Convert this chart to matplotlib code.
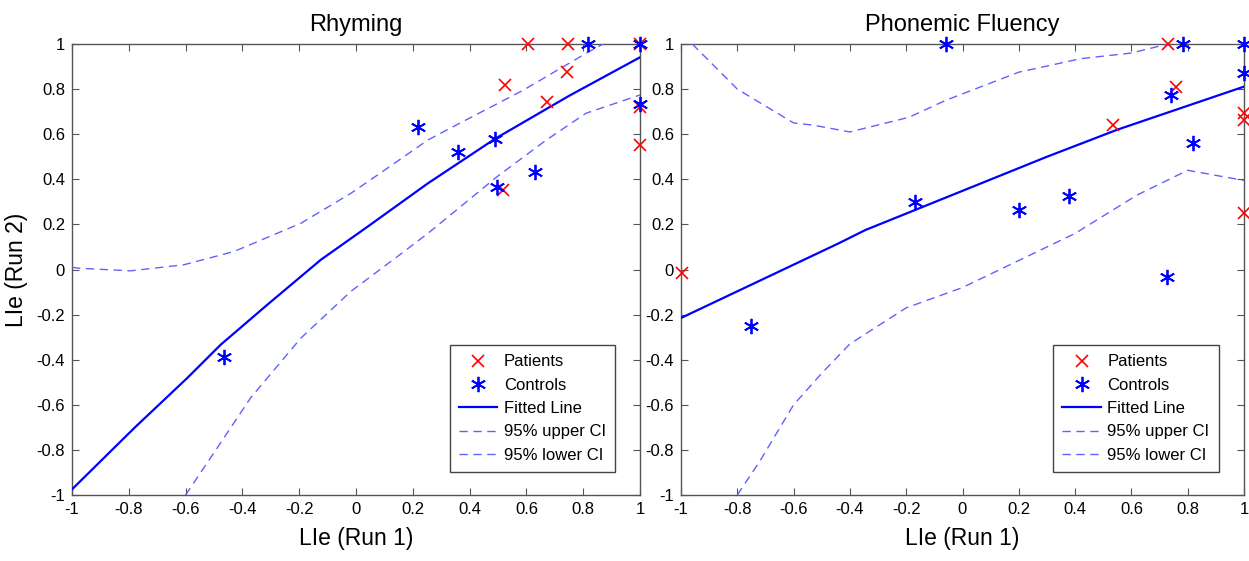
import matplotlib
matplotlib.use("Agg")
import matplotlib.pyplot as plt
from matplotlib.ticker import FixedLocator, FuncFormatter

plt.rcParams["font.family"] = ["Liberation Sans", "DejaVu Sans"]
plt.rcParams["axes.unicode_minus"] = False

# ---- Rhyming ----
rhy_pat_x = [0.605, 0.748, 1.0, 0.525, 0.742, 0.671, 1.0, 1.0, 0.519]
rhy_pat_y = [1.0, 1.0, 1.0, 0.818, 0.877, 0.744, 0.72, 0.552, 0.353]
rhy_ctl_x = [0.818, 1.0, 0.219, 0.36, 0.489, 0.498, 0.63, 1.0, -0.464]
rhy_ctl_y = [1.0, 1.0, 0.633, 0.522, 0.58, 0.364, 0.434, 0.735, -0.386]
rhy_fit_x = [-1.0, -0.78, -0.594, -0.476, -0.312, -0.124, 0.041, 0.253, 0.49, 0.75, 1.0]
rhy_fit_y = [-0.975, -0.702, -0.481, -0.333, -0.156, 0.043, 0.19, 0.382, 0.58, 0.77, 0.941]
rhy_up_x = [-1.0, -0.98, -0.794, -0.606, -0.429, -0.194, -0.018, 0.1, 0.253, 0.32, 0.59, 0.82, 0.87]
rhy_up_y = [0.01, 0.006, -0.006, 0.021, 0.08, 0.205, 0.338, 0.44, 0.574, 0.619, 0.796, 0.966, 1.0]
rhy_lo_x = [-0.6, -0.488, -0.371, -0.194, -0.018, 0.159, 0.253, 0.355, 0.495, 0.67, 0.81, 1.0]
rhy_lo_y = [-1.0, -0.79, -0.569, -0.304, -0.097, 0.07, 0.16, 0.265, 0.41, 0.574, 0.693, 0.774]

# ---- Phonemic Fluency ----
phf_pat_x = [-0.998, 0.534, 0.731, 0.76, 1.0, 1.0, 1.0]
phf_pat_y = [-0.017, 0.641, 1.0, 0.811, 0.693, 0.664, 0.249]
phf_ctl_x = [-0.057, 0.784, 1.0, 1.0, 0.74, 0.819, -0.169, 0.202, 0.378, 0.725, -0.751]
phf_ctl_y = [1.0, 1.0, 1.0, 0.873, 0.774, 0.56, 0.30, 0.264, 0.326, -0.032, -0.251]
phf_fit_x = [-1.0, -0.44, -0.345, 0.3, 0.55, 1.0]
phf_fit_y = [-0.215, 0.116, 0.175, 0.50, 0.62, 0.811]
phf_up_x = [-0.96, -0.8, -0.6, -0.53, -0.4, -0.19, -0.06, 0.2, 0.42, 0.6, 0.73]
phf_up_y = [1.0, 0.80, 0.65, 0.64, 0.61, 0.675, 0.75, 0.875, 0.935, 0.96, 1.0]
phf_lo_x = [-0.8, -0.72, -0.6, -0.5, -0.4, -0.2, 0.0, 0.2, 0.4, 0.62, 0.8, 1.0]
phf_lo_y = [-1.0, -0.85, -0.6, -0.46, -0.33, -0.17, -0.08, 0.04, 0.16, 0.33, 0.44, 0.395]

ticks = [-1, -0.8, -0.6, -0.4, -0.2, 0, 0.2, 0.4, 0.6, 0.8, 1]
legend_labels = ["Patients", "Controls", "Fitted Line", "95% upper CI", "95% lower CI"]

W, H = 1249, 561
fig = plt.figure(figsize=(W / 100, H / 100), dpi=100)

ax1 = fig.add_axes([72 / W, 1 - 495 / H, 568 / W, 451 / H])
ax2 = fig.add_axes([681 / W, 1 - 495 / H, 563 / W, 451 / H])

fit_col = "#0000ff"
ci_col = (0.38, 0.38, 1.0)
spine_col = "#555555"
asterisk = (6, 2, 0)

def panel(ax, title, px, py, cx, cy, fx, fy, ux, uy, lx, ly, ylabel, leg_anchor):
    h_p, = ax.plot(px, py, linestyle="none", marker="x", color="#ff0000",
                   markersize=9, markeredgewidth=1.2, clip_on=False, zorder=4)
    h_c, = ax.plot(cx, cy, linestyle="none", marker=asterisk, color="#0000ff",
                   markersize=11, markeredgewidth=1.3, clip_on=False, zorder=4)
    h_f, = ax.plot(fx, fy, "-", color=fit_col, linewidth=1.6, zorder=3)
    h_u, = ax.plot(ux, uy, color=ci_col, linewidth=1.0, dashes=(6, 4), zorder=3)
    h_l, = ax.plot(lx, ly, color=ci_col, linewidth=1.0, dashes=(6, 4), zorder=3)
    ax.set_xlim(-1, 1)
    ax.set_ylim(-1, 1)
    ax.xaxis.set_major_locator(FixedLocator(ticks))
    ax.yaxis.set_major_locator(FixedLocator(ticks))
    fmt = FuncFormatter(lambda v, p: "%g" % round(v, 2))
    ax.xaxis.set_major_formatter(fmt)
    ax.yaxis.set_major_formatter(fmt)
    ax.tick_params(direction="in", length=5, width=0.8, color=spine_col,
                   top=True, right=True, labelsize=12, pad=5)
    for s in ax.spines.values():
        s.set_color(spine_col)
        s.set_linewidth(1.0)
    ax.set_title(title, fontsize=17, pad=9)
    ax.set_xlabel("LIe (Run 1)", fontsize=16.5, labelpad=7)
    if ylabel:
        ax.set_ylabel("LIe (Run 2)", fontsize=16.5, labelpad=6)
    leg = ax.legend([h_p, h_c, h_f, h_u, h_l], legend_labels, loc="lower right",
                    bbox_to_anchor=leg_anchor, fontsize=12, frameon=True,
                    fancybox=False, edgecolor="#444444", framealpha=1,
                    handlelength=2.3, handletextpad=0.4, borderpad=0.55,
                    labelspacing=0.5, borderaxespad=0)
    leg.get_frame().set_linewidth(1.0)

panel(ax1, "Rhyming", rhy_pat_x, rhy_pat_y, rhy_ctl_x, rhy_ctl_y,
      rhy_fit_x, rhy_fit_y, rhy_up_x, rhy_up_y, rhy_lo_x, rhy_lo_y, True, (0.956, 0.051))
panel(ax2, "Phonemic Fluency", phf_pat_x, phf_pat_y, phf_ctl_x, phf_ctl_y,
      phf_fit_x, phf_fit_y, phf_up_x, phf_up_y, phf_lo_x, phf_lo_y, False, (0.955, 0.051))

fig.savefig("out.png", dpi=100)
